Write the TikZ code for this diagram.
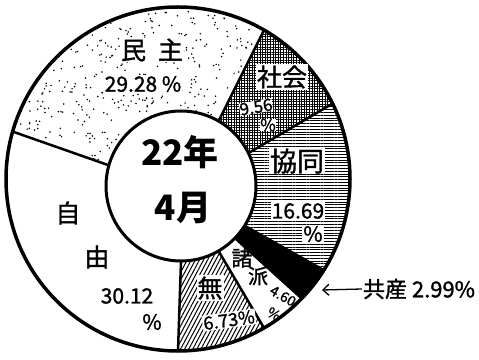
\documentclass[tikz,border=0pt]{standalone}
\usepackage{fontspec}
\newfontfamily\jp{Noto Sans CJK JP}
\newfontfamily\jpm[FakeBold=1.3]{Noto Sans CJK JP}
\usetikzlibrary{calc,patterns.meta,arrows.meta}
% one ring sector between two angles
\newcommand\sektor[2]{($(I)+(#1:75)$) -- ($(O)+(#1:172)$) arc[start angle=#1,end angle=#2,radius=172] -- ($(I)+(#2:75)$) arc[start angle=#2,end angle=#1,radius=75] -- cycle}

\begin{document}
\begin{tikzpicture}[x=1pt,y=1pt,
	lab/.style={font=\jpm\fontsize{25}{27}\selectfont,inner sep=1pt},
	num/.style={font=\jpm\fontsize{21}{23}\selectfont,inner sep=1pt},
	tiny/.style={font=\jpm\fontsize{14}{16}\selectfont,inner sep=0pt},
	wb/.style={fill=white}]
\useasboundingbox (0,0) rectangle (479,359);
\coordinate (O) at (178,180);
\coordinate (I) at (181,173);
% fills
\begin{scope}
	\clip \sektor{60}{164};
	\pgfmathsetseed{7}
	\foreach \k in {1,...,650}
		\fill ({rnd*270},{180+rnd*180}) circle (0.85);
\end{scope}
\fill[pattern={Hatch[angle=0,distance=2.6pt,line width=0.9pt]}] \sektor{26}{60};
\fill[pattern={Lines[angle=0,distance=2.8pt,line width=1pt]}] \sektor{-32}{26};
\fill \sektor{-44}{-32};
\fill[pattern={Lines[angle=62,distance=3.6pt,line width=1pt]}] \sektor{-90}{-60};
% ring and dividers
\foreach \a in {-90,-60,-44,-32,26,60,164}
	\draw[line width=2.5pt] ($(I)+(\a:75)$) -- ($(O)+(\a:172)$);
\draw[line width=3.5pt] (O) circle[radius=172];
\draw[line width=3pt,fill=white] (I) circle[radius=75];
% labels
\node[lab,wb] (minshu) at (152,309) {民\hspace{12pt}主};
\node[num,wb] (minshuP) at (143,275) {29.28 \%};
\node[lab,wb] (shakai) at (282,282) {社会};
\node[num,wb,rotate=10,inner sep=0pt,font=\jpm\fontsize{17}{19}\selectfont] (shakaiN) at (256,252) {9.56};
\node[num,wb,inner sep=0pt,font=\jpm\fontsize{17}{19}\selectfont] (shakaiP) at (268,234) {\%};
\node[lab,wb,font=\jpm\fontsize{27}{29}\selectfont] (kyodo) at (297,198) {協同};
\node[num,wb] (kyodoN) at (298,148) {16.69};
\node[num,wb] (kyodoP) at (313,125) {\%};
\node[lab,font=\jpm\fontsize{21}{23}\selectfont] (sho) at (242,101) {諸};
\node[lab,font=\jpm\fontsize{20}{22}\selectfont] (ha) at (258,83) {派};
\node[tiny,rotate=-30] (shohaN) at (283,63) {4.60};
\node[tiny,rotate=-30] (shohaP) at (274,45) {\%};
\node[lab,wb] (mu) at (210,71) {無};
\node[num,wb,rotate=8,font=\jpm\fontsize{18}{20}\selectfont] (muP) at (229,39) {6.73\%};
\node[lab] (ji) at (68,146) {自};
\node[lab] (yu) at (97,102) {由};
\node[num] (jiyuN) at (127,63) {30.12};
\node[num] (jiyuP) at (152,37) {\%};
\node[font=\jp\bfseries\fontsize{35}{37}\selectfont] (year) at (180,207) {22年};
\node[font=\jp\bfseries\fontsize{35}{37}\selectfont] (month) at (183,151) {4月};
% arrow to the black sector
\node[lab,font=\jpm\fontsize{22}{24}\selectfont] (kyosan) at (419,70) {共産 2.99\%};
\coordinate (kyosanT) at (322,69);
\draw[line width=1.3pt,-{Straight Barb[length=6pt,width=11pt]}] (kyosan.west) -- (kyosanT);
\end{tikzpicture}
\end{document}
